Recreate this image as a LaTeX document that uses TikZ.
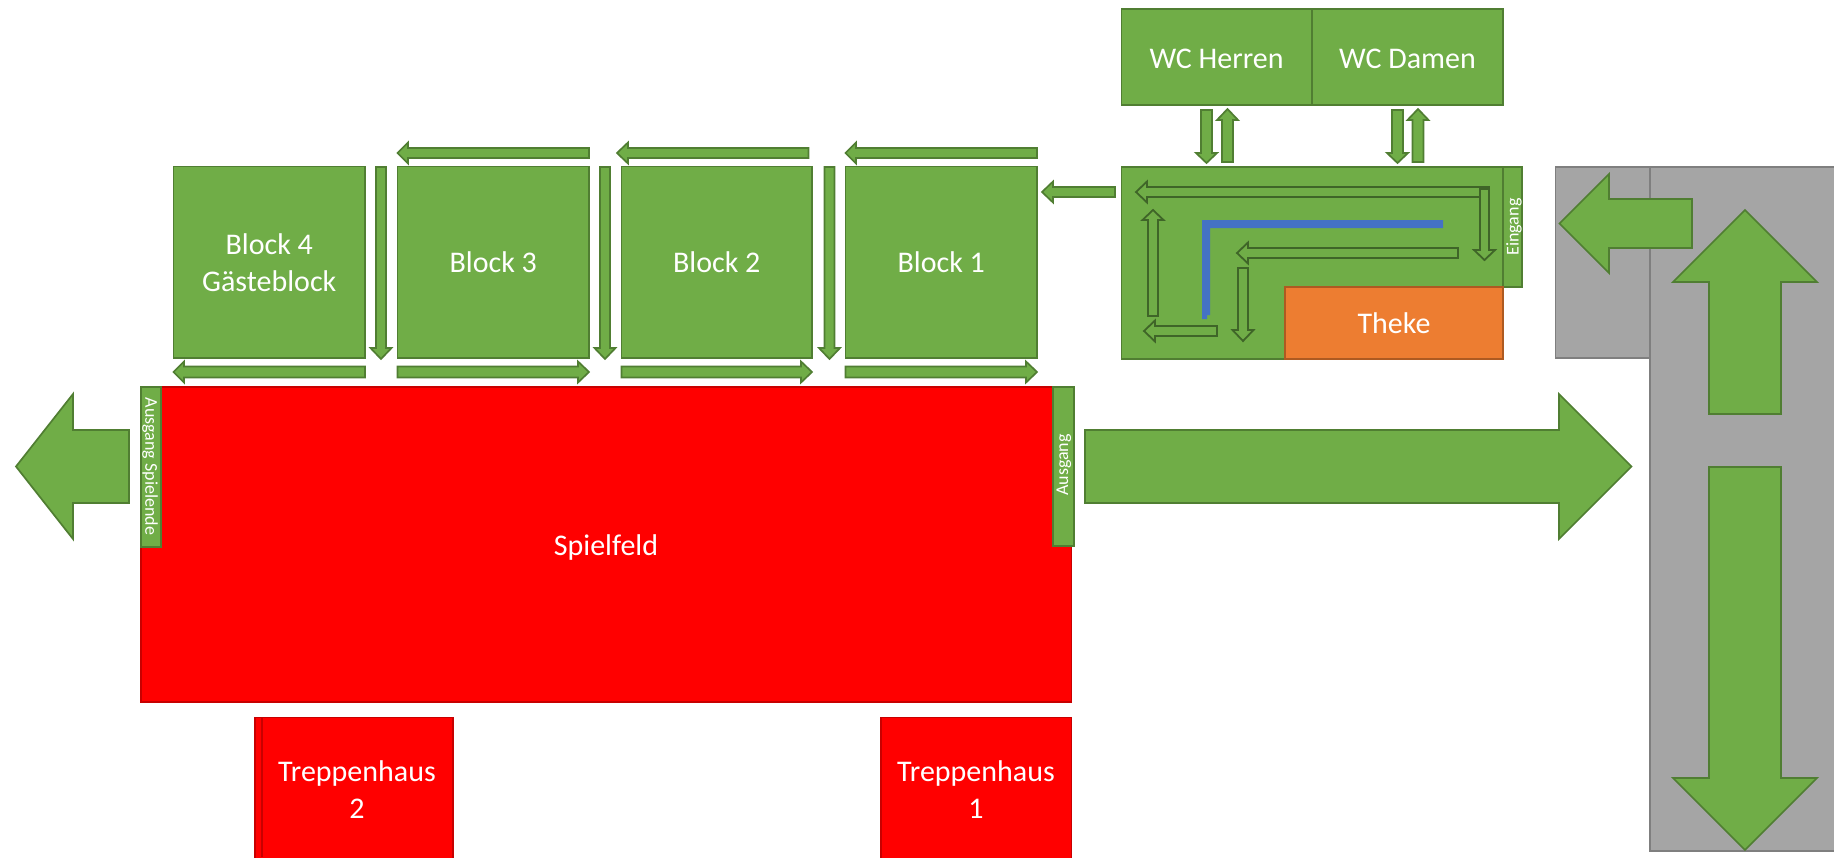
\documentclass[tikz,border=0pt]{standalone}
\usepackage{fontspec}
\setmainfont{Carlito}
\definecolor{gfill}{HTML}{70AD47}
\definecolor{gline}{HTML}{507E32}
\definecolor{gdark}{HTML}{3F6528}
\definecolor{rline}{HTML}{C80000}
\definecolor{ofill}{HTML}{ED7D31}
\definecolor{oline}{HTML}{AE5A21}
\definecolor{gyfill}{HTML}{A5A5A5}
\definecolor{gyline}{HTML}{7F7F7F}
\definecolor{bluebar}{HTML}{4472C4}
\newcommand{\larr}[7][]{\draw[#1] (#2,#5) -- (#3,#5-#7) -- (#3,#5-#6) -- (#4,#5-#6) -- (#4,#5+#6) -- (#3,#5+#6) -- (#3,#5+#7) -- cycle;}
\newcommand{\varr}[7][]{\draw[#1] (#5,#2) -- (#5-#7,#3) -- (#5-#6,#3) -- (#5-#6,#4) -- (#5+#6,#4) -- (#5+#6,#3) -- (#5+#7,#3) -- cycle;}
\tikzset{
 bigtext/.style={text=white,font=\fontsize{30}{37}\selectfont,align=center},
 gbox/.style={draw=gline,fill=gfill,line width=1.7pt,bigtext,anchor=north west,inner sep=0pt,outer sep=0pt},
 rbox/.style={gbox,draw=rline,fill=red},
 obox/.style={gbox,draw=oline,fill=ofill},
 gybox/.style={draw=gyline,fill=gyfill,line width=1.7pt},
 sidelabel/.style={text=white,font=\fontsize{18}{18}\selectfont,inner sep=0pt},
 garrow/.style={draw=gline,fill=gfill,line width=1.7pt,line join=miter},
 inarrow/.style={draw=gdark,fill=gfill,line width=1.8pt,line join=miter},
 bigarrow/.style={draw=gline,fill=gfill,line width=1.7pt,line join=miter},
}
\begin{document}
\begin{tikzpicture}[x=1pt,y=-1pt]
\useasboundingbox (0,0) rectangle (1834,857);
% grey areas
\draw[gybox] (1555.5,167) rectangle (1650,358);
\draw[gybox] (1650,167) rectangle (1840,851);
\larr[bigarrow]{1559.5}{1609}{1692}{223.5}{24.5}{49.5}
\varr[bigarrow]{210}{282}{414}{1745}{36}{72}
\varr[bigarrow]{850}{778}{467}{1745}{36}{72}
% WC
\node[gbox,minimum width=190.5pt,minimum height=96pt] (herren) at (1121.5,9) {};
\node[gbox,minimum width=191pt,minimum height=96pt] (damen) at (1312,9) {};
\node[bigtext,inner sep=0pt] (herrent) at (1216.5,58.5) {WC Herren};
\node[bigtext,inner sep=0pt] (dament) at (1407.5,58.5) {WC Damen};
\varr[garrow]{163}{153}{110}{1206.5}{5.5}{10.5}
\varr[garrow]{109}{120}{162}{1227.5}{5.5}{10.5}
\varr[garrow]{163}{153}{110}{1397.5}{5.5}{10.5}
\varr[garrow]{109}{120}{162}{1418}{5.5}{10.5}
% room
\node[gbox,minimum width=381.5pt,minimum height=192pt] (room) at (1121.5,167) {};
\node[gbox,minimum width=19pt,minimum height=120pt] (eingangbox) at (1503,167) {};
\node[sidelabel,rotate=90] (eingang) at (1514,227) {Eingang};
\node[obox,minimum width=218pt,minimum height=72pt] (theke) at (1285,287) {Theke};
\fill[bluebar] (1202,220) -- (1443,220) -- (1443,228) -- (1210,228) -- (1210,315) -- (1207,315) -- (1207,319) -- (1202,319) -- cycle;
\larr[inarrow]{1136}{1147}{1489}{192}{5}{10.5}
\varr[inarrow]{260}{250}{189}{1484.5}{4.5}{10.5}
\larr[inarrow]{1237}{1248}{1458}{253}{5}{10.5}
\varr[inarrow]{341}{330}{268}{1243}{5}{10.5}
\larr[inarrow]{1144}{1155}{1217}{331}{5}{10.5}
\varr[inarrow]{210}{220}{316}{1153}{5}{10.5}
\larr[garrow]{1042}{1053}{1115}{192}{5}{10.5}
% blocks
\node[gbox,minimum width=191.5pt,minimum height=191.5pt] (b4) at (173.5,166.5) {Block 4\\Gästeblock};
\node[gbox,minimum width=191.5pt,minimum height=191.5pt] (b3) at (397.5,166.5) {Block 3};
\node[gbox,minimum width=190.5pt,minimum height=191.5pt] (b2) at (621.5,166.5) {Block 2};
\node[gbox,minimum width=191.5pt,minimum height=191.5pt] (b1) at (845.5,166.5) {Block 1};
\larr[garrow]{397.5}{408}{589}{153}{5}{10.5}
\larr[garrow]{617}{628}{808.5}{153}{5}{10.5}
\larr[garrow]{845.5}{856}{1037}{153}{5}{10.5}
\varr[garrow]{359}{348}{167}{381}{5}{10.5}
\varr[garrow]{359}{348}{167}{605}{5}{10.5}
\varr[garrow]{359}{348}{167}{829.5}{5}{10.5}
\larr[garrow]{173.5}{184}{365}{372}{5.5}{10.5}
\larr[garrow]{589}{578}{397.5}{372}{5.5}{10.5}
\larr[garrow]{812}{801}{621.5}{372}{5.5}{10.5}
\larr[garrow]{1037}{1026}{845.5}{372}{5.5}{10.5}
% field
\node[rbox,minimum width=930.5pt,minimum height=315pt] (feld) at (141,387) {};
\node[bigtext,inner sep=0pt] (feldt) at (606,547.5) {Spielfeld};
\node[gbox,minimum width=20pt,minimum height=160pt] (asbox) at (141,387) {};
\node[sidelabel,rotate=-90] (as) at (150,466.5) {Ausgang Spielende};
\node[gbox,minimum width=21pt,minimum height=159pt] (abox) at (1053,387) {};
\node[sidelabel,rotate=90] (a) at (1064,465) {Ausgang};
\larr[bigarrow]{16}{73}{129}{466.5}{36.5}{72.5}
\larr[bigarrow]{1631.5}{1559}{1085}{466.5}{36.5}{72.5}
% stairs
\node[rbox,minimum width=198pt,minimum height=150pt] (t2) at (255,717.5) {};
\draw[draw=rline,line width=1.5pt] (262,717.5) -- (262,857);
\node[bigtext,inner sep=0pt] (t2t) at (357,790) {Treppenhaus\\2};
\node[rbox,minimum width=190.5pt,minimum height=150pt] (t1) at (881,717.5) {};
\node[bigtext,inner sep=0pt] (t1t) at (976,790) {Treppenhaus\\1};
\end{tikzpicture}
\end{document}
